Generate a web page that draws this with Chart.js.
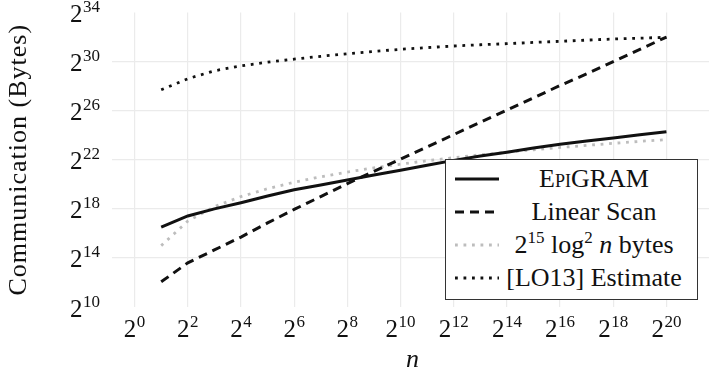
<!DOCTYPE html>
<html>
<head>
<meta charset="utf-8">
<script src="https://cdn.jsdelivr.net/npm/chart.js@4/dist/chart.umd.min.js"></script>
<style>
  body { margin: 0; background: #fff; }
  #wrap { position: relative; width: 709px; height: 371px; }
  #legend {
    position: absolute; left: 445px; top: 159px; width: 251px; height: 137px;
    border: 1px solid #333; background: #fff; padding-top: 2px;
    font-family: "Liberation Serif", serif; font-size: 26px; color: #111;
  }
  .row { display: flex; align-items: center; height: 33px; }
  .row svg { margin-left: 9px; flex: none; }
  .row span.txt { flex: 1; text-align: center; white-space: nowrap; padding-right: 8px; }
  sup { font-size: 17px; vertical-align: 0; position: relative; top: -10px; }
</style>
</head>
<body>
<div id="wrap">
  <canvas id="chart" width="709" height="371"></canvas>
  <div id="legend"></div>
</div>
<script>
// x is log2(n), y is log2(bytes)
const logN = [1, 2, 3, 4, 5, 6, 7, 8, 9, 10, 11, 12, 13, 14, 15, 16, 17, 18, 19, 20];
const epigram = [16.5, 17.42, 18.0, 18.5, 19.05, 19.55, 19.95, 20.35, 20.75, 21.15, 21.55, 21.95, 22.3, 22.62, 22.95, 23.26, 23.52, 23.77, 24.03, 24.29];
const linearScan = [12.05, 13.6, 14.65, 15.7, 16.85, 17.95, 19.0, 20.05, 21.05, 22.05, 23.05, 24.05, 25.05, 26.05, 27.05, 28.05, 29.0, 30.0, 31.0, 32.0];
const bound = [15, 17, 18.17, 19, 19.64, 20.17, 20.61, 21, 21.34, 21.64, 21.92, 22.17, 22.4, 22.61, 22.81, 23, 23.17, 23.34, 23.5, 23.64];
const lo13 = [27.7, 28.6, 29.25, 29.65, 29.95, 30.2, 30.43, 30.64, 30.83, 31.0, 31.14, 31.27, 31.37, 31.46, 31.56, 31.65, 31.75, 31.84, 31.91, 31.98];

const seriesNames = ['EpiGRAM', 'Linear Scan', '2^15 log^2 n bytes', '[LO13] Estimate'];
const legendHtml = [
  '<span style="font-variant:small-caps">EpiGRAM</span>',
  'Linear Scan',
  '2<sup>15</sup> log<sup>2</sup> <i>n</i> bytes',
  '[LO13] Estimate'
];
const xTickExps = [0, 2, 4, 6, 8, 10, 12, 14, 16, 18, 20];
const yTickExps = [10, 14, 18, 22, 26, 30, 34];

function pts(vals) {
  return logN.map((x, i) => ({ x: x, y: vals[i] }));
}

const texAxes = {
  id: 'texAxes',
  afterDraw(chart) {
    const ctx = chart.ctx;
    const xs = chart.scales.x, ys = chart.scales.y;
    ctx.save();
    ctx.fillStyle = '#111';
    ctx.textBaseline = 'alphabetic';
    const power = (e, x, y, align) => {
      ctx.font = '25px "Liberation Serif"';
      const wb = ctx.measureText('2').width;
      ctx.font = '17px "Liberation Serif"';
      const ws = ctx.measureText(String(e)).width;
      const total = wb + ws + 0.5;
      const x0 = align === 'right' ? x - total : x - total / 2;
      ctx.textAlign = 'left';
      ctx.font = '25px "Liberation Serif"';
      ctx.fillText('2', x0, y);
      ctx.font = '17px "Liberation Serif"';
      ctx.fillText(String(e), x0 + wb + 0.5, y - 10);
    };
    xTickExps.forEach(e => power(e, xs.getPixelForValue(e), 337, 'center'));
    yTickExps.forEach(e => power(e, 100, ys.getPixelForValue(e) + 9.5, 'right'));

    // axis titles
    ctx.font = 'italic 26px "Liberation Serif"';
    ctx.textAlign = 'center';
    ctx.fillText('n', (chart.chartArea.left + chart.chartArea.right) / 2 + 2, 367);
    ctx.translate(19, (chart.chartArea.top + chart.chartArea.bottom) / 2);
    ctx.rotate(-Math.PI / 2);
    ctx.font = '26px "Liberation Serif"';
    if ('letterSpacing' in ctx) ctx.letterSpacing = '1px';
    ctx.textBaseline = 'middle';
    ctx.fillText('Communication (Bytes)', 0, 0);
    ctx.restore();
  }
};

const chart = new Chart(document.getElementById('chart'), {
  type: 'line',
  data: {
    datasets: [
      { label: seriesNames[0], data: pts(epigram), borderColor: '#111', borderWidth: 3, borderDash: [] },
      { label: seriesNames[1], data: pts(linearScan), borderColor: '#111', borderWidth: 3, borderDash: [9, 6] },
      { label: seriesNames[2], data: pts(bound), borderColor: '#bdbdbd', borderWidth: 2.8, borderDash: [2.8, 5.7] },
      { label: seriesNames[3], data: pts(lo13), borderColor: '#111', borderWidth: 2.8, borderDash: [2.8, 5.7] }
    ]
  },
  options: {
    responsive: false,
    animation: false,
    devicePixelRatio: 1,
    layout: { padding: { left: 112, top: 12.5, right: 0, bottom: 64 } },
    elements: { point: { radius: 0 }, line: { tension: 0, borderCapStyle: 'butt' } },
    plugins: { legend: { display: false }, tooltip: { enabled: false } },
    scales: {
      x: {
        type: 'linear', min: -0.85, max: 21.6,
        afterBuildTicks: s => { s.ticks = xTickExps.map(v => ({ value: v })); },
        afterFit: s => { s.height = 0; },
        ticks: { display: false },
        grid: { color: '#ebebeb', lineWidth: 1.2, drawTicks: false },
        border: { display: false }
      },
      y: {
        type: 'linear', min: 10, max: 34,
        afterBuildTicks: s => { s.ticks = yTickExps.map(v => ({ value: v })); },
        afterFit: s => { s.width = 0; },
        ticks: { display: false },
        grid: {
          color: c => (c.tick && (c.tick.value === 10 || c.tick.value === 34)) ? 'rgba(0,0,0,0)' : '#ebebeb',
          lineWidth: 1.2, drawTicks: false
        },
        border: { display: false }
      }
    }
  },
  plugins: [texAxes]
});

// legend built from the datasets
const legend = document.getElementById('legend');
chart.data.datasets.forEach((ds, i) => {
  const row = document.createElement('div');
  row.className = 'row';
  const dash = ds.borderDash.length ? ds.borderDash.join(' ') : 'none';
  row.innerHTML = '<svg width="44" height="8"><line x1="0" y1="4" x2="44" y2="4" stroke="' + ds.borderColor +
    '" stroke-width="' + ds.borderWidth + '" stroke-dasharray="' + dash + '"/></svg>' +
    '<span class="txt">' + legendHtml[i] + '</span>';
  legend.appendChild(row);
});
</script>
</body>
</html>
